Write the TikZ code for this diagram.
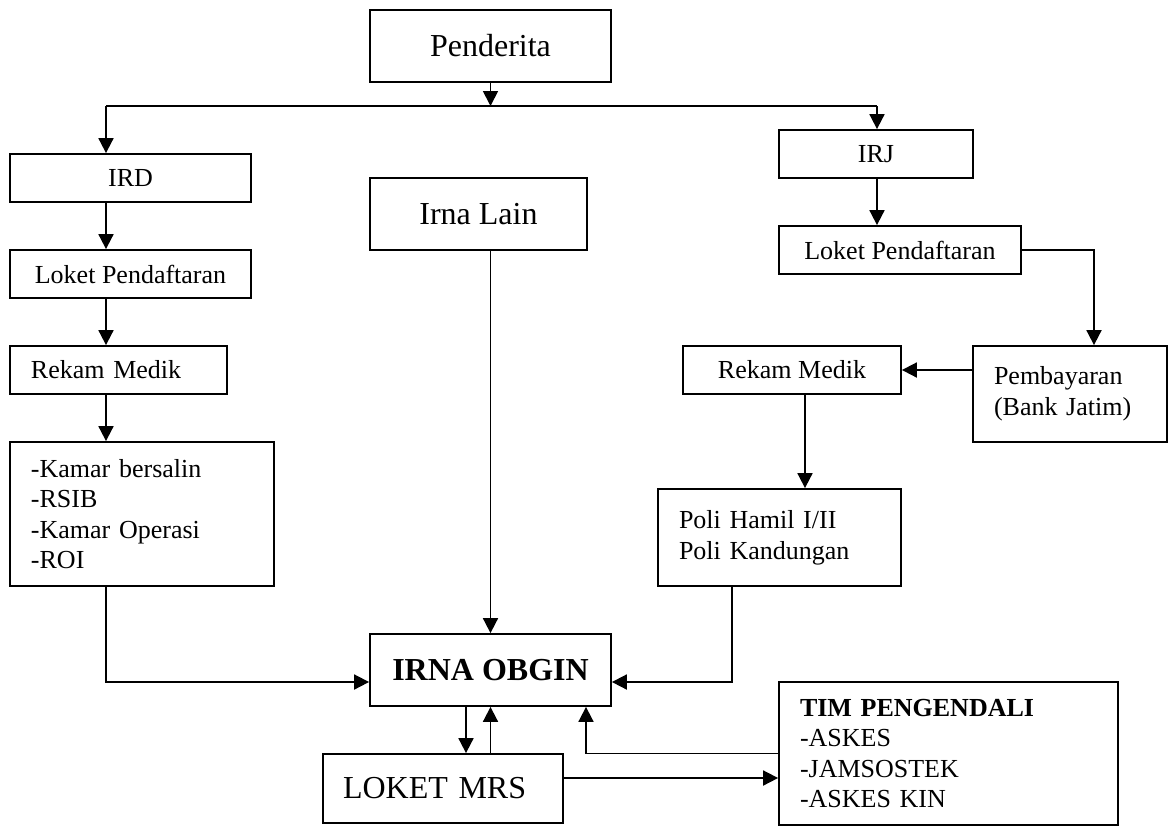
\documentclass[tikz,border=0pt]{standalone}
\usepackage{fontspec}
\setmainfont{Liberation Serif}
\usetikzlibrary{arrows.meta}
\begin{document}
\begin{tikzpicture}[x=0.5pt,y=-0.5pt,
    box/.style={draw,line width=0.9pt,inner sep=0pt,font=\fontsize{13}{15.3}\selectfont},
    big/.style={box,font=\fontsize{16}{19}\selectfont},
    lbox/.style={box,align=left,inner xsep=10.5pt},
    arr/.style={line width=0.9pt,-{Triangle[length=7.5pt,width=7.5pt]}},
    ln/.style={line width=0.9pt}]
\useasboundingbox (0,0) rectangle (1168,826);
\node[big,minimum width=120.5pt,minimum height=36pt] (pend) at (490.5,46) {Penderita};
\node[box,minimum width=120.5pt,minimum height=24pt] (ird) at (130.5,178) {IRD};
\node[box,minimum width=120.5pt,minimum height=24pt] (lokl) at (130.5,274) {Loket Pendaftaran};
\node[lbox,text width=87.5pt,minimum height=24pt] (rekl) at (118.5,370) {Rekam Medik};
\node[lbox,text width=111pt,minimum height=72pt] (kamar) at (142,514) {-Kamar bersalin\\-RSIB\\-Kamar Operasi\\-ROI};
\node[big,minimum width=108.5pt,minimum height=36pt] (lain) at (478.5,214) {Irna Lain};
\node[box,minimum width=97pt,minimum height=24pt] (irj) at (876,154) {IRJ};
\node[box,minimum width=121pt,minimum height=24pt] (lokr) at (900,250) {Loket Pendaftaran};
\node[lbox,text width=76pt,minimum height=48pt] (bayar) at (1070,394) {Pembayaran\\(Bank Jatim)};
\node[box,minimum width=109pt,minimum height=24pt] (rekr) at (792,370) {Rekam Medik};
\node[lbox,text width=100.5pt,minimum height=48.5pt] (poli) at (779.5,537.5) {Poli Hamil I/II\\Poli Kandungan};
\node[big,minimum width=120.5pt,minimum height=36pt,font=\fontsize{16}{19}\selectfont\bfseries] (obgin) at (490.5,670) {IRNA OBGIN};
\node[lbox,inner xsep=10pt,text width=100pt,minimum height=34.5pt,font=\fontsize{16}{19}\selectfont] (mrs) at (443,788.5) {LOKET MRS};
\node[lbox,text width=148.5pt,minimum height=71.5pt] (tim) at (948.5,753.5) {\textbf{TIM PENGENDALI}\\-ASKES\\-JAMSOSTEK\\-ASKES KIN};
\coordinate (sp) at (490.5,106);
\coordinate (l) at (106,106);
\coordinate (r) at (877,106);
\coordinate (b) at (1094,0);
\coordinate (rx) at (805,0);
\coordinate (px) at (732,0);
\coordinate (mid) at (0,682);
\coordinate (dn) at (466,0);
\coordinate (ux) at (586,0);
\coordinate (my) at (0,778);
\draw[arr] (pend) -- (sp);
\draw[ln] (l) -- (r);
\draw[arr] (l) -- (l |- ird.north);
\draw[arr] (r) -- (r |- irj.north);
\draw[arr] (ird.south -| l) -- (lokl.north -| l);
\draw[arr] (lokl.south -| l) -- (rekl.north -| l);
\draw[arr] (rekl.south -| l) -- (kamar.north -| l);
\draw[arr] (kamar.south -| l) |- (obgin.west |- mid);
\draw[arr] (lain.south -| obgin) -- (obgin);
\draw[arr] (irj.south -| r) -- (lokr.north -| r);
\draw[arr] (lokr) -| (bayar.north -| b);
\draw[arr] (bayar.west |- rekr) -- (rekr);
\draw[arr] (rekr.south -| rx) -- (poli.north -| rx);
\draw[arr] (poli.south -| px) |- (obgin.east |- mid);
\draw[arr] (obgin.south -| dn) -- (mrs.north -| dn);
\draw[arr] (mrs.north -| obgin) -- (obgin.south);
\draw[arr] (tim.west) -| (obgin.south -| ux);
\draw[arr] (mrs.east |- my) -- (tim.west |- my);
\end{tikzpicture}
\end{document}
